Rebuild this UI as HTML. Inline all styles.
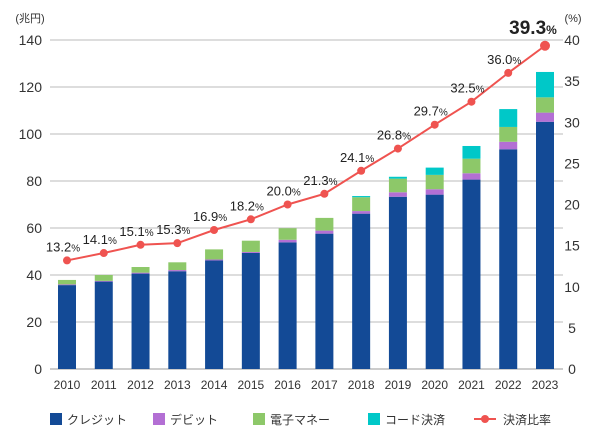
<!DOCTYPE html>
<html><head><meta charset="utf-8"><style>
body{margin:0;background:#fff;font-family:"Liberation Sans","Noto Sans CJK JP",sans-serif}
svg text{font-family:"Liberation Sans","Noto Sans CJK JP",sans-serif}
</style></head><body>
<svg id="c" width="600" height="440"></svg>
<script>
const years=["2010","2011","2012","2013","2014","2015","2016","2017","2018","2019","2020","2021","2022","2023"];
const credit=[35.7,37.2,40.6,41.6,46.2,49.4,53.9,57.6,66.1,73.3,74.2,80.6,93.5,105.2];
const debit=[0.3,0.3,0.4,0.5,0.4,0.4,1.1,1.3,1.1,1.9,2.3,2.7,3.2,3.9];
const emoney=[1.9,2.5,2.4,3.3,4.3,4.8,4.9,5.4,5.9,5.8,6.1,6.2,6.3,6.5];
const code=[0,0,0,0,0,0,0,0,0.5,0.8,3.1,5.4,7.6,10.8];
const ratio=[13.2,14.1,15.1,15.3,16.9,18.2,20.0,21.3,24.1,26.8,29.7,32.5,36.0,39.3];
const leftTicks=[0,20,40,60,80,100,120,140];
const rightTicks=[0,5,10,15,20,25,30,35,40];
const NS="http://www.w3.org/2000/svg",svg=document.getElementById('c');
function el(t,a,txt){const e=document.createElementNS(NS,t);for(const k in a)e.setAttribute(k,a[k]);if(txt!=null)e.textContent=txt;svg.appendChild(e);return e;}
const x0=50,x1=563,yB=369,yT=40;
const yL=v=>yB-(v/140)*(yB-yT);
const yR=v=>yB-(v/40)*(yB-yT);
const xC=i=>67+i*(545-67)/(years.length-1);
leftTicks.forEach(v=>{
 let g=el('line',{x1:x0,x2:x1,y1:yL(v),y2:yL(v),stroke:v==0?'#999':'#bbb','stroke-width':1});
 
 let t=el('text',{x:42,y:yL(v)+5,'text-anchor':'end','font-size':14,fill:'#333'},v);
 
});
rightTicks.forEach(v=>{
 let t=el('text',{x:572,y:yR(v)+5,'text-anchor':'middle','font-size':14,fill:'#333'},v);
 
});
let u=el('text',{x:30,y:22,'text-anchor':'middle','font-size':11,fill:'#333'},'(兆円)');

u=el('text',{x:573,y:22,'text-anchor':'middle','font-size':11,fill:'#333'},'(%)');

const series=[[credit,'#134a96','bar-credit'],[debit,'#b36fd4','bar-debit'],[emoney,'#8dc869','bar-emoney'],[code,'#00c8c8','bar-code']];
years.forEach((y,i)=>{
 let base=0;
 series.forEach(([arr,col,nm])=>{
  const v=arr[i];if(v<=0)return;
  const r=el('rect',{x:xC(i)-9,y:yL(base+v),width:18,height:yL(base)-yL(base+v),fill:col});
  
  base+=v;
 });
 const t=el('text',{x:xC(i),y:389,'text-anchor':'middle','font-size':12,fill:'#333'},y);
 
});
const pts=ratio.map((v,i)=>xC(i)+','+yR(v)).join(' ');
const pl=el('polyline',{points:pts,fill:'none',stroke:'#ef5350','stroke-width':2});

ratio.forEach((v,i)=>{
 const last=i==ratio.length-1;
 const c=el('circle',{cx:xC(i),cy:yR(v),r:last?5:4,fill:'#ef5350'});
 
 const t=el('text',{x:xC(i)-(last?12:4),y:yR(v)-(last?12:9),'text-anchor':'middle','font-size':last?19:13,'font-weight':last?'bold':'normal',fill:'#222'});
 
 t.textContent=v.toFixed(1);
 const s=document.createElementNS(NS,'tspan');s.setAttribute('font-size',last?12:10);s.textContent='%';t.appendChild(s);
});
const leg=[['クレジット','#134a96',50],['デビット','#b36fd4',153],['電子マネー','#8dc869',253],['コード決済','#00c8c8',368]];
leg.forEach(([n,c,x])=>{
 const r=el('rect',{x:x,y:413,width:12,height:12,fill:c});
 
 const t=el('text',{x:x+17,y:424,'font-size':12,fill:'#333'},n);
 
});
let ll=el('line',{x1:474,x2:496,y1:419,y2:419,stroke:'#ef5350','stroke-width':2});

ll=el('circle',{cx:485,cy:419,r:4,fill:'#ef5350'});

ll=el('text',{x:503,y:424,'font-size':12,fill:'#333'},'決済比率');

</script>
</body></html>
